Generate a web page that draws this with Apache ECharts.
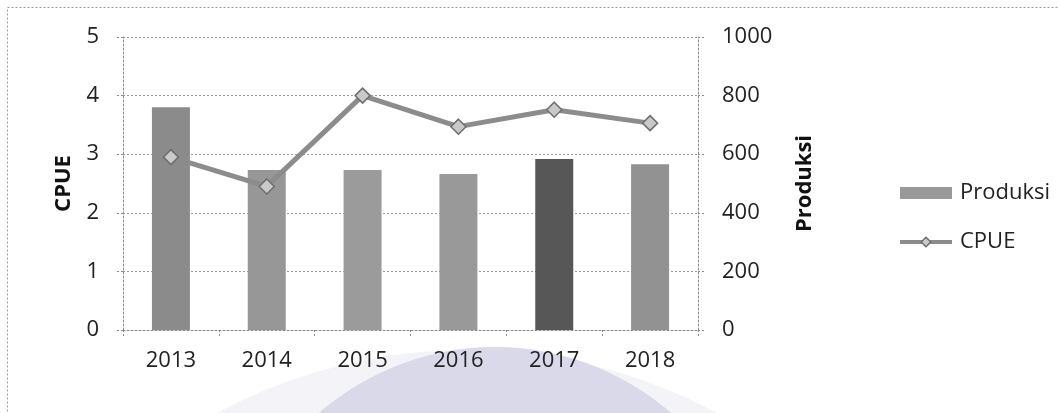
<!DOCTYPE html>
<html>
<head>
<meta charset="utf-8">
<script src="https://cdn.jsdelivr.net/npm/echarts@6/dist/echarts.min.js"></script>
<style>
  html, body { margin: 0; padding: 0; background: #ffffff; }
  #chart { width: 1059px; height: 413px; }
</style>
</head>
<body>
<div id="chart"></div>
<script>
// Years on the category axis
const years = ['2013', '2014', '2015', '2016', '2017', '2018'];
// Production per year (right axis)
const produksi = [760, 546, 546, 532, 584, 566];
// Catch per unit effort per year (left axis)
const cpue = [2.95, 2.45, 4.0, 3.47, 3.76, 3.53];
// Bar shades per year
const barShades = ['#8b8b8b', '#979797', '#9b9b9b', '#999999', '#575757', '#929292'];

const FONT = 'Open Sans';
const gridLine = { show: true, lineStyle: { color: '#9a9a9a', type: [2, 2], width: 1 } };

const chart = echarts.init(document.getElementById('chart'), null, { renderer: 'canvas' });

chart.setOption({
  backgroundColor: '#ffffff',
  animation: false,
  textStyle: { fontFamily: FONT },
  graphic: [
    // soft lavender emblem behind the lower part of the chart
    {
      type: 'circle', z: -10, silent: true,
      shape: { cx: 467, cy: 877, r: 527 },
      style: { fill: '#f3f3f8' }
    },
    {
      type: 'circle', z: -9, silent: true,
      shape: { cx: 495, cy: 615, r: 268 },
      style: { fill: '#dad9ea' }
    },
    // dotted frame around the chart
    {
      type: 'rect', z: -5, silent: true,
      shape: { x: 7.5, y: 7.5, width: 1100, height: 500 },
      style: { fill: 'none', stroke: '#9a9a9a', lineWidth: 1, lineDash: [2, 2] }
    }
  ],
  grid: { left: 123, right: 361, top: 37, bottom: 83 },
  legend: {
    orient: 'vertical',
    left: 893,
    top: 176,
    itemGap: 25,
    itemWidth: 52,
    itemHeight: 12,
    textStyle: { fontFamily: FONT, fontSize: 22, color: '#222', lineHeight: 24, padding: [0, 0, 0, 3] },
    data: [
      { name: 'Produksi', icon: 'rect', itemStyle: { color: '#999999' } },
      {
        name: 'CPUE',
        lineStyle: { color: '#8c8c8c', width: 4 },
        itemStyle: { color: '#c9c9c9', borderColor: '#6e6e6e', borderWidth: 1.5 }
      }
    ]
  },
  xAxis: {
    type: 'category',
    data: years,
    axisLine: { show: true, lineStyle: { color: '#8a8a8a', type: [2, 2], width: 1 } },
    axisTick: { show: true, length: 6, alignWithLabel: false, lineStyle: { color: '#8a8a8a', type: [2, 2] } },
    axisLabel: { fontFamily: FONT, fontSize: 22, color: '#222', margin: 20 },
    splitLine: { show: false }
  },
  yAxis: [
    {
      type: 'value',
      min: 0, max: 5, interval: 1,
      position: 'left',
      name: 'CPUE',
      nameLocation: 'middle',
      nameGap: 48,
      nameMoveOverlap: false,
      nameTextStyle: { fontFamily: FONT, fontSize: 22, fontWeight: 'bold', color: '#111' },
      axisLine: { show: true, lineStyle: { color: '#8a8a8a', type: [2, 2], width: 1 } },
      axisTick: { show: true, length: 7, lineStyle: { color: '#8a8a8a', type: [2, 2] } },
      axisLabel: { fontFamily: FONT, fontSize: 22, color: '#222', margin: 24 },
      splitLine: gridLine
    },
    {
      type: 'value',
      min: 0, max: 1000, interval: 200,
      position: 'right',
      name: 'Produksi',
      nameLocation: 'middle',
      nameGap: 96,
      nameMoveOverlap: false,
      nameTextStyle: { fontFamily: FONT, fontSize: 22, fontWeight: 'bold', color: '#111' },
      axisLine: { show: true, lineStyle: { color: '#8a8a8a', type: [2, 2], width: 1 } },
      axisTick: { show: true, length: 7, lineStyle: { color: '#8a8a8a', type: [2, 2] } },
      axisLabel: { fontFamily: FONT, fontSize: 22, color: '#222', margin: 24, formatter: v => String(v) },
      splitLine: { show: false }
    }
  ],
  series: [
    {
      name: 'Produksi',
      type: 'bar',
      yAxisIndex: 1,
      barWidth: 38,
      z: 2,
      itemStyle: { color: '#8f8f8f' },
      data: produksi.map((v, i) => ({ value: v, itemStyle: { color: barShades[i] } }))
    },
    {
      name: 'CPUE',
      type: 'line',
      yAxisIndex: 0,
      z: 5,
      symbol: 'diamond',
      symbolSize: 15,
      lineStyle: { color: '#8c8c8c', width: 5 },
      itemStyle: { color: '#c9c9c9', borderColor: '#6e6e6e', borderWidth: 1.5 },
      data: cpue
    }
  ]
});
</script>
</body>
</html>
